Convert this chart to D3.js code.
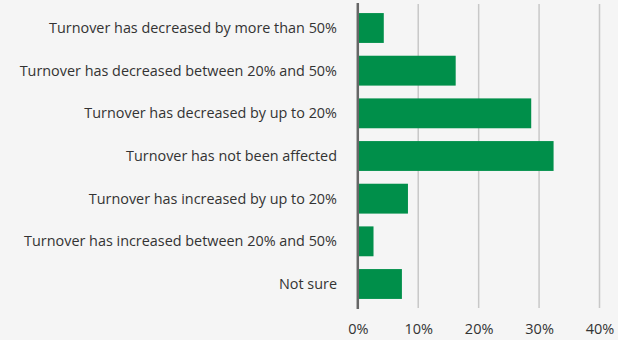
<!DOCTYPE html>
<html>
<head>
<meta charset="utf-8">
<style>
  body { margin: 0; background: #f5f5f5; font-family: "Open Sans", sans-serif; }
  svg { display: block; }
  .grid line { stroke: #c8c8c8; stroke-width: 1.5px; }
  .x.axis path, .x.axis line { display: none; }
  .x.axis text { font-size: 14.5px; fill: #333; font-family: "Open Sans", sans-serif; }
  .cat text { font-size: 14.4px; fill: #333; }
  .bar { fill: #008f4a; }
  .zero { stroke: #666; stroke-width: 2.5px; }
</style>
</head>
<body>
<script src="https://d3js.org/d3.v7.min.js"></script>
<script>
var categories = [
  "Turnover has decreased by more than 50%",
  "Turnover has decreased between 20% and 50%",
  "Turnover has decreased by up to 20%",
  "Turnover has not been affected",
  "Turnover has increased by up to 20%",
  "Turnover has increased between 20% and 50%",
  "Not sure"
];
var values = [4.3, 16.2, 28.7, 32.4, 8.3, 2.6, 7.3];
var ticks = [0, 10, 20, 30, 40];

var width = 618, height = 340;
var svg = d3.select("body").append("svg")
    .attr("width", width)
    .attr("height", height);

var x = d3.scaleLinear()
    .domain([0, 40])
    .range([357.8, 599.5]);
var y = d3.scaleBand()
    .domain(categories)
    .range([4, 308])
    .paddingInner(0.3)
    .paddingOuter(0.2125);

// gridlines
svg.append("g")
    .attr("class", "grid")
  .selectAll("line")
    .data(ticks.slice(1))
  .enter().append("line")
    .attr("x1", function(d) { return x(d); })
    .attr("x2", function(d) { return x(d); })
    .attr("y1", 4)
    .attr("y2", 308);

// bars
svg.selectAll(".bar")
    .data(values)
  .enter().append("rect")
    .attr("class", "bar")
    .attr("x", x(0) + 1)
    .attr("y", function(d, i) { return y(categories[i]); })
    .attr("width", function(d) { return x(d) - x(0) - 1; })
    .attr("height", y.bandwidth());

// zero line
svg.append("line")
    .attr("class", "zero")
    .attr("x1", x(0)).attr("x2", x(0))
    .attr("y1", 3).attr("y2", 309);

// category labels
svg.append("g")
    .attr("class", "cat")
  .selectAll("text")
    .data(categories)
  .enter().append("text")
    .attr("x", 337)
    .attr("y", function(d) { return y(d) + y.bandwidth() / 2; })
    .attr("dy", "0.35em")
    .attr("text-anchor", "end")
    .text(function(d) { return d; });

// x axis labels
var xAxis = d3.axisBottom(x)
    .tickValues(ticks)
    .tickSize(0)
    .tickPadding(0)
    .tickFormat(function(d) { return d + "%"; });
svg.append("g")
    .attr("class", "x axis")
    .attr("transform", "translate(0,324)")
    .call(xAxis);
</script>
</body>
</html>
